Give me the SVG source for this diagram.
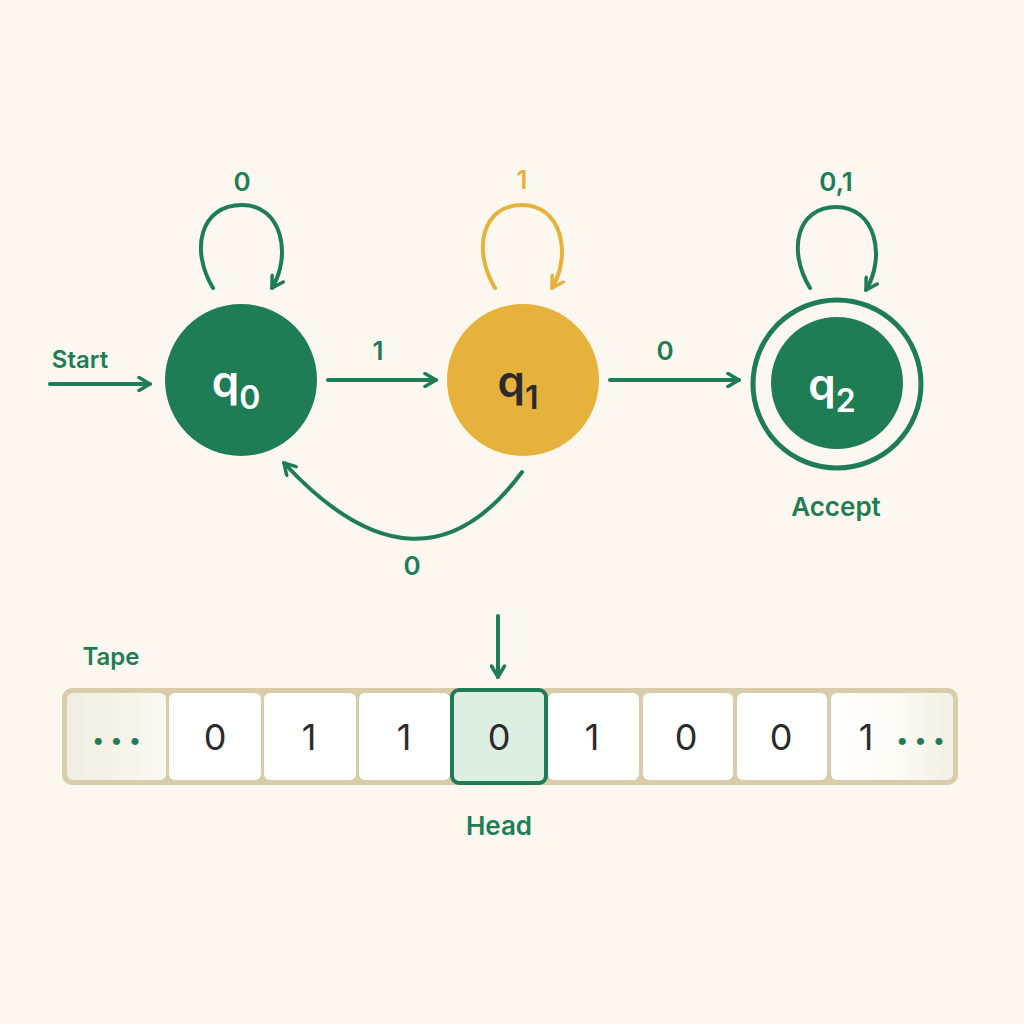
<svg xmlns="http://www.w3.org/2000/svg" width="1024" height="1024" viewBox="0 0 1024 1024">
<defs>
<style>
.lbl{font-family:Inter,"Noto Sans",sans-serif;font-weight:600;fill:#1E7D55;text-anchor:middle}
.edge{fill:none;stroke:#1E7D55;stroke-width:4;stroke-linecap:round}
.edgeY{fill:none;stroke:#E6B23C;stroke-width:4;stroke-linecap:round}
.cell{fill:#FFFFFF}
.digit{font-family:Inter,"Noto Sans",sans-serif;font-size:36px;fill:#2B2B2B;text-anchor:middle}
.dots{font-family:Inter,"Noto Sans",sans-serif;font-size:38px;font-weight:800;fill:#1E7D55;text-anchor:middle;letter-spacing:5px}
.state{font-family:Inter,"Noto Sans",sans-serif;font-weight:600;text-anchor:middle}
</style>
<marker id="ah2" viewBox="0 0 16 16" refX="13" refY="8" markerWidth="16" markerHeight="16" markerUnits="userSpaceOnUse" orient="auto">
<path d="M2,1.5 L13,8 L2,14.5" fill="none" stroke="#1E7D55" stroke-width="3.5" stroke-linecap="round" stroke-linejoin="round"/>
</marker>
<marker id="ahY" viewBox="0 0 16 16" refX="13" refY="8" markerWidth="16" markerHeight="16" markerUnits="userSpaceOnUse" orient="auto">
<path d="M2,1.5 L13,8 L2,14.5" fill="none" stroke="#E6B23C" stroke-width="3.5" stroke-linecap="round" stroke-linejoin="round"/>
</marker>
<linearGradient id="endg" x1="0" y1="0" x2="1" y2="0">
<stop offset="0" stop-color="#F1EDE0"/>
<stop offset="1" stop-color="#FAF8F1"/>
</linearGradient>
<linearGradient id="endg2" x1="0" y1="0" x2="1" y2="0">
<stop offset="0" stop-color="#FFFFFF"/>
<stop offset="0.5" stop-color="#FCFBF6"/>
<stop offset="1" stop-color="#F3EFE3"/>
</linearGradient>
</defs>
<rect width="1024" height="1024" fill="#FCF8EF"/>

<g id="connectors">
<path class="edge" d="M50 384 L150 384" marker-end="url(#ah2)"/>
<text class="lbl" x="80" y="368" font-size="24">Start</text>
<path class="edge" d="M213 288 C190 250 200 205 242 205 C282 205 292 255 272 288" marker-end="url(#ah2)"/>
<text class="lbl" x="242" y="191" font-size="26">0</text>
<path class="edgeY" d="M495 288 C472 250 482 205 522 205 C562 205 572 255 552 288" marker-end="url(#ahY)"/>
<text class="lbl" x="522" y="189" font-size="26" style="fill:#E6B23C">1</text>
<path class="edge" d="M810 288 C787 250 797 207 836 207 C876 207 886 257 866 290" marker-end="url(#ah2)"/>
<text class="lbl" x="836" y="191" font-size="26">0,1</text>
<path class="edge" d="M328 380 L436 380" marker-end="url(#ah2)"/>
<text class="lbl" x="378" y="360" font-size="26">1</text>
<path class="edge" d="M610 380 L739 380" marker-end="url(#ah2)"/>
<text class="lbl" x="665" y="360" font-size="26">0</text>
<path class="edge" d="M522 472 Q420 610 284 463" marker-end="url(#ah2)"/>
<text class="lbl" x="412" y="575" font-size="26">0</text>
</g>

<g id="q0">
<circle cx="241" cy="380" r="76" fill="#1E7D55"/>
<text class="state" x="236" y="397" font-size="44" fill="#FFFFFF">q<tspan font-size="32" dy="12">0</tspan></text>
</g>
<g id="q1">
<circle cx="523" cy="380" r="76" fill="#E6B23C"/>
<text class="state" x="518" y="397" font-size="44" fill="#2B2B2B">q<tspan font-size="32" dy="12">1</tspan></text>
</g>
<g id="q2">
<circle cx="837" cy="384" r="84" fill="none" stroke="#1E7D55" stroke-width="5"/>
<circle cx="837" cy="383" r="66" fill="#1E7D55"/>
<text class="state" x="832" y="400" font-size="44" fill="#FFFFFF">q<tspan font-size="32" dy="12">2</tspan></text>
<text class="lbl" x="836" y="516" font-size="26">Accept</text>
</g>

<g id="tape">
<text class="lbl" x="111" y="665" font-size="24">Tape</text>
<rect x="62" y="688" width="896" height="97" rx="10" fill="#D8CCAA"/>
<rect x="67" y="693" width="99" height="87" rx="6" fill="url(#endg)"/>
<text class="dots" x="119" y="745">...</text>
<rect class="cell" x="169" y="693" width="92" height="87" rx="6"/>
<text class="digit" x="215" y="750">0</text>
<rect class="cell" x="264" y="693" width="92" height="87" rx="6"/>
<text class="digit" x="309" y="750">1</text>
<rect class="cell" x="359" y="693" width="91" height="87" rx="6"/>
<text class="digit" x="404" y="750">1</text>
<rect class="cell" x="548" y="693" width="91" height="87" rx="6"/>
<text class="digit" x="592" y="750">1</text>
<rect class="cell" x="643" y="693" width="90" height="87" rx="6"/>
<text class="digit" x="686" y="750">0</text>
<rect class="cell" x="737" y="693" width="90" height="87" rx="6"/>
<text class="digit" x="781" y="750">0</text>
<rect x="831" y="693" width="122" height="87" rx="6" fill="url(#endg2)"/>
<text class="digit" x="866" y="750">1</text>
<text class="dots" x="923" y="745">...</text>
</g>

<g id="head">
<rect x="452" y="690" width="94" height="93" rx="7" fill="#DDEEE2" stroke="#1E7D55" stroke-width="4"/>
<text class="digit" x="499" y="750">0</text>
<path class="edge" d="M498 616 L498 677" marker-end="url(#ah2)"/>
<text class="lbl" x="499" y="835" font-size="26">Head</text>
</g>
</svg>
